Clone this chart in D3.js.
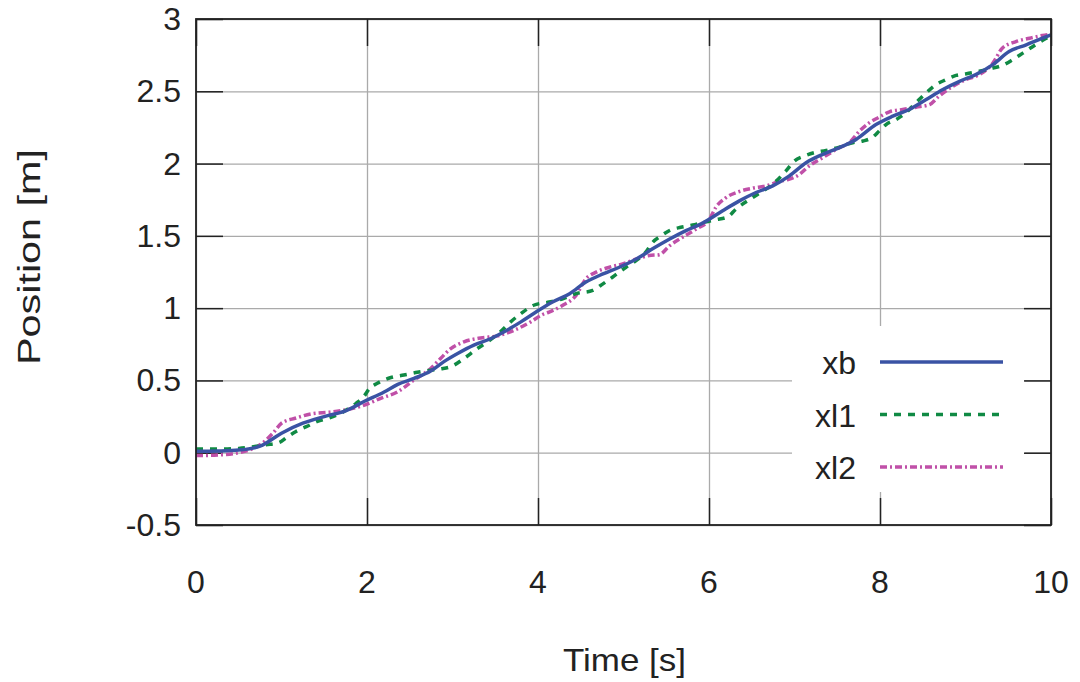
<!DOCTYPE html>
<html>
<head>
<meta charset="utf-8">
<script src="https://cdn.jsdelivr.net/npm/d3@7"></script>
<style>
  body { margin: 0; background: #fff; }
  text { font-family: "Liberation Sans", Arial, sans-serif; fill: #222; }
</style>
</head>
<body>
<svg id="chart" width="1080" height="682"></svg>
<script>
// values: [time, position]
const xb = [
  [0, 0.01], [0.25, 0.012], [0.5, 0.018], [0.75, 0.045], [1.0, 0.135], [1.25, 0.204],
  [1.5, 0.25], [1.75, 0.29], [1.965, 0.354], [2.2, 0.42], [2.36, 0.473], [2.55, 0.514],
  [2.745, 0.565], [2.9, 0.63], [3.06, 0.686], [3.25, 0.744], [3.45, 0.79], [3.6, 0.835],
  [3.8, 0.905], [3.977, 0.973], [4.17, 1.042], [4.37, 1.1], [4.56, 1.18], [4.76, 1.237],
  [4.95, 1.283], [5.15, 1.34], [5.34, 1.41], [5.54, 1.478], [5.73, 1.536], [5.93, 1.59],
  [6.16, 1.674], [6.355, 1.742], [6.55, 1.8], [6.745, 1.846], [6.94, 1.915], [7.135, 2.006],
  [7.33, 2.064], [7.525, 2.11], [7.72, 2.167], [7.953, 2.27], [8.15, 2.328], [8.34, 2.374],
  [8.54, 2.443], [8.73, 2.511], [8.93, 2.569], [9.12, 2.615], [9.32, 2.684], [9.51, 2.775],
  [9.71, 2.821], [9.9, 2.867], [10.0, 2.89]
];
const xl1 = [
  [0, 0.025], [0.25, 0.025], [0.5, 0.03], [0.82, 0.055], [0.97, 0.07], [1.07, 0.11],
  [1.17, 0.147], [1.29, 0.18], [1.42, 0.216], [1.56, 0.24], [1.68, 0.27], [1.87, 0.34],
  [1.965, 0.39], [2.03, 0.445], [2.12, 0.48], [2.28, 0.52], [2.43, 0.537], [2.59, 0.556],
  [2.745, 0.57], [2.86, 0.58], [2.98, 0.595], [3.135, 0.652], [3.29, 0.72], [3.41, 0.767],
  [3.56, 0.836], [3.68, 0.905], [3.8, 0.962], [3.95, 1.02], [4.13, 1.042], [4.29, 1.065],
  [4.445, 1.1], [4.64, 1.123], [4.76, 1.168], [4.87, 1.214], [5.03, 1.283], [5.15, 1.33],
  [5.26, 1.387], [5.34, 1.455], [5.44, 1.5], [5.56, 1.543], [5.67, 1.559], [5.81, 1.575],
  [5.93, 1.593], [6.08, 1.612], [6.22, 1.632], [6.315, 1.685], [6.51, 1.765], [6.63, 1.81],
  [6.745, 1.857], [6.9, 1.949], [7.0, 2.018], [7.115, 2.052], [7.23, 2.075], [7.37, 2.091],
  [7.525, 2.114], [7.68, 2.144], [7.8, 2.156], [7.915, 2.183], [7.99, 2.225], [8.07, 2.27],
  [8.19, 2.305], [8.3, 2.35], [8.42, 2.42], [8.54, 2.489], [8.655, 2.546], [8.77, 2.58],
  [8.89, 2.61], [9.0, 2.62], [9.16, 2.638], [9.32, 2.66], [9.43, 2.679], [9.55, 2.718],
  [9.67, 2.764], [9.83, 2.826], [10.0, 2.885]
];
const xl2 = [
  [0, -0.02], [0.25, -0.016], [0.5, 0.0], [0.75, 0.055], [0.9, 0.135], [1.0, 0.204],
  [1.17, 0.24], [1.36, 0.27], [1.56, 0.28], [1.75, 0.296], [1.95, 0.325], [2.16, 0.376],
  [2.355, 0.42], [2.55, 0.503], [2.745, 0.583], [2.86, 0.652], [2.98, 0.72], [3.135, 0.767],
  [3.33, 0.794], [3.525, 0.808], [3.72, 0.847], [3.915, 0.905], [4.05, 0.955], [4.13, 0.973],
  [4.29, 1.02], [4.445, 1.088], [4.56, 1.203], [4.68, 1.249], [4.835, 1.283], [4.99, 1.306],
  [5.15, 1.34], [5.3, 1.364], [5.42, 1.37], [5.54, 1.432], [5.69, 1.49], [5.85, 1.547],
  [6.0, 1.61], [6.08, 1.697], [6.2, 1.765], [6.355, 1.807], [6.51, 1.83], [6.67, 1.846],
  [6.82, 1.876], [6.94, 1.892], [7.06, 1.926], [7.17, 1.983], [7.33, 2.041], [7.525, 2.11],
  [7.64, 2.144], [7.76, 2.225], [7.875, 2.282], [7.99, 2.321], [8.11, 2.358], [8.265, 2.374],
  [8.42, 2.39], [8.58, 2.408], [8.69, 2.466], [8.85, 2.534], [9.0, 2.58], [9.16, 2.615],
  [9.32, 2.695], [9.43, 2.798], [9.59, 2.844], [9.75, 2.867], [9.9, 2.886], [10.0, 2.895]
];

const xTicks = [0, 2, 4, 6, 8, 10];
const yTicks = [-0.5, 0, 0.5, 1, 1.5, 2, 2.5, 3];
const seriesNames = ["xb", "xl1", "xl2"];

const plotLeft = 196, plotRight = 1051, plotTop = 19, plotBottom = 525;
const fontSize = 32;
const svg = d3.select("#chart");

const x = d3.scaleLinear().domain([0, 10]).range([plotLeft, plotRight]);
const y = d3.scaleLinear().domain([-0.5, 3]).range([plotBottom, plotTop]);

// grid
svg.append("g")
  .attr("transform", `translate(0,${plotBottom})`)
  .call(d3.axisBottom(x).tickValues(xTicks).tickSize(-(plotBottom - plotTop)).tickFormat(""))
  .call(g => g.select(".domain").remove())
  .selectAll("line").attr("stroke", "#aaa").attr("stroke-width", 1.3);
svg.append("g")
  .attr("transform", `translate(${plotLeft},0)`)
  .call(d3.axisLeft(y).tickValues(yTicks).tickSize(-(plotRight - plotLeft)).tickFormat(""))
  .call(g => g.select(".domain").remove())
  .selectAll("line").attr("stroke", "#aaa").attr("stroke-width", 1.3);

// legend box covers the grid
svg.append("rect")
  .attr("x", 792).attr("y", 326).attr("width", 233).attr("height", 166)
  .attr("fill", "#fff");

// tick marks on all four sides, pointing inwards
const tk = 27;
const tickStyle = g => {
  g.select(".domain").remove();
  g.selectAll("line").attr("stroke", "#222").attr("stroke-width", 1.5);
};
svg.append("g").attr("transform", `translate(0,${plotBottom})`)
  .call(d3.axisBottom(x).tickValues(xTicks).tickSize(-tk).tickFormat("")).call(tickStyle);
svg.append("g").attr("transform", `translate(0,${plotTop})`)
  .call(d3.axisTop(x).tickValues(xTicks).tickSize(-tk).tickFormat("")).call(tickStyle);
svg.append("g").attr("transform", `translate(${plotLeft},0)`)
  .call(d3.axisLeft(y).tickValues(yTicks).tickSize(-tk).tickFormat("")).call(tickStyle);
svg.append("g").attr("transform", `translate(${plotRight},0)`)
  .call(d3.axisRight(y).tickValues(yTicks).tickSize(-tk).tickFormat("")).call(tickStyle);

// tick labels
svg.append("g").selectAll("text")
  .data(xTicks).enter().append("text")
  .attr("x", d => x(d)).attr("y", 593)
  .attr("text-anchor", "middle").attr("font-size", fontSize)
  .text(d => d);
svg.append("g").selectAll("text")
  .data(yTicks).enter().append("text")
  .attr("x", 181).attr("y", d => y(d) + 11)
  .attr("text-anchor", "end").attr("font-size", fontSize)
  .text(d => d);

// axis titles
svg.append("text")
  .attr("x", 563).attr("y", 671)
  .attr("font-size", fontSize)
  .attr("textLength", 123).attr("lengthAdjust", "spacingAndGlyphs")
  .text("Time [s]");
svg.append("text")
  .attr("transform", `translate(40,365) rotate(-90)`)
  .attr("font-size", fontSize)
  .attr("textLength", 216).attr("lengthAdjust", "spacingAndGlyphs")
  .text("Position [m]");

const line = d3.line()
  .x(d => x(d[0]))
  .y(d => y(d[1]))
  .curve(d3.curveMonotoneX);

const styles = {
  xb:  { color: "#3a53a4", width: 3.5, dash: null },
  xl1: { color: "#108a44", width: 3.5, dash: "7,7" },
  xl2: { color: "#c050a8", width: 3.5, dash: "7,3,2,3" }
};
const dataBySeries = { xb: xb, xl1: xl1, xl2: xl2 };

// draw in reverse so xb lies on top
["xl2", "xl1", "xb"].forEach(name => {
  const s = styles[name];
  svg.append("path")
    .datum(dataBySeries[name])
    .attr("d", line)
    .attr("fill", "none")
    .attr("stroke", s.color)
    .attr("stroke-width", s.width)
    .attr("stroke-dasharray", s.dash);
});

// frame
svg.append("rect")
  .attr("x", plotLeft).attr("y", plotTop)
  .attr("width", plotRight - plotLeft).attr("height", plotBottom - plotTop)
  .attr("fill", "none").attr("stroke", "#222").attr("stroke-width", 1.8);

// legend
const legend = svg.append("g");
seriesNames.forEach((name, i) => {
  const ly = 362 + i * 52.5;
  const s = styles[name];
  legend.append("text")
    .attr("x", 856).attr("y", ly + 12)
    .attr("text-anchor", "end").attr("font-size", fontSize)
    .text(name);
  legend.append("line")
    .attr("x1", 880).attr("x2", 1003).attr("y1", ly).attr("y2", ly)
    .attr("stroke", s.color).attr("stroke-width", 3.5)
    .attr("stroke-dasharray", s.dash);
});
</script>
</body>
</html>
